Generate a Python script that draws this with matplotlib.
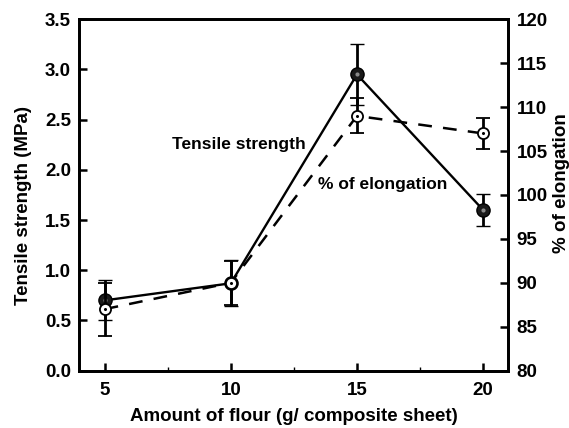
import matplotlib
matplotlib.use("Agg")
import matplotlib.pyplot as plt
from matplotlib.ticker import MultipleLocator

plt.rcParams["font.family"] = ["Liberation Sans", "DejaVu Sans"]
plt.rcParams["font.weight"] = "bold"

# data
flour = [5, 10, 15, 20]
tensile = [0.70, 0.87, 2.95, 1.60]
tensile_err = [0.20, 0.23, 0.30, 0.155]
elong = [87.0, 90.0, 109.0, 107.0]
elong_err = [3.0, 2.5, 2.0, 1.75]

fig = plt.figure(figsize=(5.69, 4.28), dpi=100)
ax = fig.add_axes([0.1395, 0.134, 0.754, 0.821])
ax2 = ax.twinx()

# tensile strength: solid line, dark sphere markers
ax.errorbar(flour, tensile, yerr=tensile_err, color="black", lw=1.7,
            elinewidth=2, capsize=5, capthick=2, zorder=3,
            marker="o", ms=9.5, mfc="#1a1a1a", mec="black", mew=1)
ax.plot(flour, tensile, ls="none", marker="o", ms=3, mfc="#8a8a8a",
        mec="none", zorder=4)

# % elongation: dashed line, open markers with centre dot
ax2.errorbar(flour, elong, yerr=elong_err, color="black", lw=1.8,
             ls=(0, (5.5, 4.5)), elinewidth=2, capsize=5, capthick=2,
             marker="o", ms=8, mfc="white", mec="black", mew=1.3, zorder=3)
ax2.plot(flour, elong, ls="none", marker="o", ms=1.2, mfc="black",
         mec="black", zorder=4)

ax.set_xlim(4, 21)
ax.set_ylim(0, 3.5)
ax2.set_ylim(80, 120)
ax.xaxis.set_major_locator(MultipleLocator(5))
ax.xaxis.set_minor_locator(MultipleLocator(2.5))
ax.yaxis.set_major_locator(MultipleLocator(0.5))
ax2.yaxis.set_major_locator(MultipleLocator(5))

for a in (ax, ax2):
    for s in a.spines.values():
        s.set_linewidth(2)
ax.tick_params(axis="both", which="major", direction="in", length=6,
               width=1.8, labelsize=13.5, pad=6)
ax.tick_params(axis="x", which="major", pad=8)
ax.tick_params(axis="x", which="minor", direction="in", length=3, width=1)
ax.tick_params(axis="y", which="both", right=False)
ax2.tick_params(axis="y", direction="in", length=6, width=1.8,
                labelsize=13.5, pad=6)
for lab in ax.get_xticklabels() + ax.get_yticklabels() + ax2.get_yticklabels():
    lab.set_fontweight("bold")

ax.set_xlabel("Amount of flour (g/ composite sheet)", fontsize=13.5,
              fontweight="bold", labelpad=7)
ax.set_ylabel("Tensile strength (MPa)", fontsize=13.5, fontweight="bold")
ax.yaxis.set_label_coords(-0.11, 0.47)
# the reference cuts this label at the right edge of the image
ax2.set_ylabel("% of elongation", fontsize=13.5, fontweight="bold")
ax2.yaxis.set_label_coords(1.103, 0.535)

ax.text(0.215, 0.645, "Tensile strength", transform=ax.transAxes,
        fontsize=12.5, fontweight="bold", va="center")
ax.text(0.557, 0.53, "% of elongation", transform=ax.transAxes,
        fontsize=12.5, fontweight="bold", va="center")

fig.savefig("out.png", dpi=100)
